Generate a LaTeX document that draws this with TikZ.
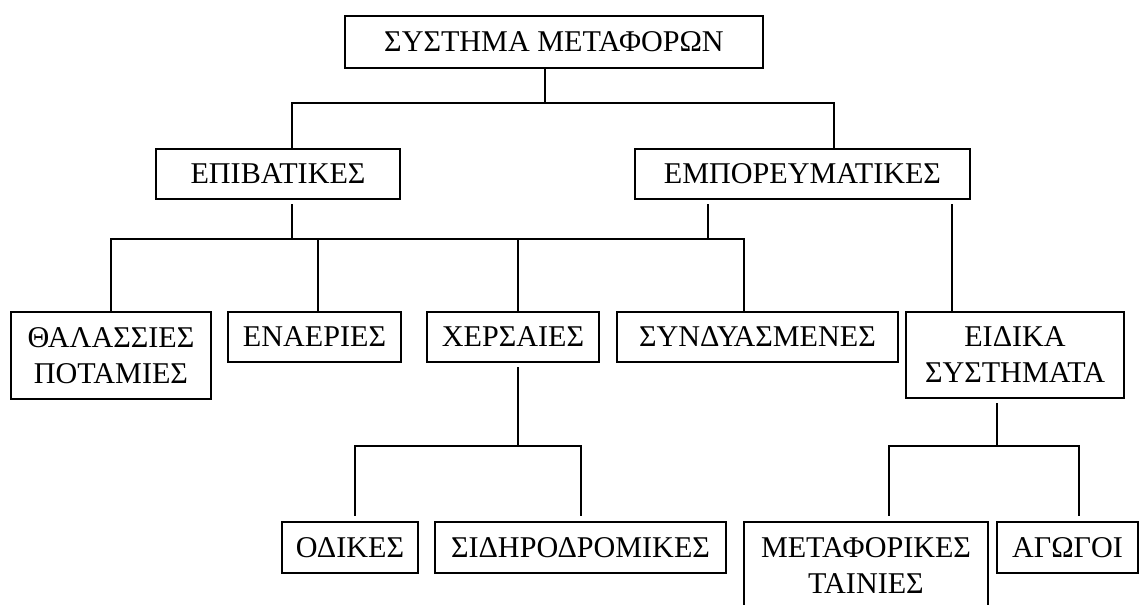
\documentclass[tikz,border=0pt]{standalone}
\usepackage{fontspec}
\setmainfont{Liberation Serif}
\begin{document}
\begin{tikzpicture}[x=0.75pt,y=-0.75pt,
  box/.style={draw, line width=1.6pt, inner sep=0pt, align=center,
    font=\fontsize{22.6}{27}\selectfont},
  link/.style={line width=0.9pt}]
\clip (0,0) rectangle (1143,604);

% boxes
\node[box, minimum width=313.5pt, minimum height=39pt] (sys) at (554,42) {ΣΥΣΤΗΜΑ ΜΕΤΑΦΟΡΩΝ};
\node[box, minimum width=183pt, minimum height=37.5pt] (epi) at (278,174) {ΕΠΙΒΑΤΙΚΕΣ};
\node[box, minimum width=251.25pt, minimum height=37.5pt] (emp) at (802.5,174) {ΕΜΠΟΡΕΥΜΑΤΙΚΕΣ};
\node[box, minimum width=150pt, minimum height=65.25pt] (thal) at (111,355.5) {ΘΑΛΑΣΣΙΕΣ\\ΠΟΤΑΜΙΕΣ};
\node[box, minimum width=129.75pt, minimum height=37.5pt] (enae) at (314.5,337) {ΕΝΑΕΡΙΕΣ};
\node[box, minimum width=129pt, minimum height=37.5pt] (xers) at (513,337) {ΧΕΡΣΑΙΕΣ};
\node[box, minimum width=210.75pt, minimum height=37.5pt] (synd) at (757.5,337) {ΣΥΝΔΥΑΣΜΕΝΕΣ};
\node[box, minimum width=163.5pt, minimum height=64.5pt] (eidika) at (1015,355) {ΕΙΔΙΚΑ\\ΣΥΣΤΗΜΑΤΑ};
\node[box, minimum width=102pt, minimum height=38.25pt] (odik) at (350,547.5) {ΟΔΙΚΕΣ};
\node[box, minimum width=218.25pt, minimum height=38.25pt] (sidir) at (580.5,547.5) {ΣΙΔΗΡΟΔΡΟΜΙΚΕΣ};
\node[box, minimum width=183pt, minimum height=66pt] (metaf) at (866,566) {ΜΕΤΑΦΟΡΙΚΕΣ\\ΤΑΙΝΙΕΣ};
\node[box, minimum width=105.75pt, minimum height=38.25pt] (agog) at (1067.5,547.5) {ΑΓΩΓΟΙ};

% first level
\coordinate (j0) at (545,103);
\draw[link] (sys.south -| j0) -- (j0);
\draw[link] (epi.north -| 292,0) |- (j0) -| (emp.north -| 834,0);

% second level
\coordinate (j1) at (292,239);
\draw[link, shorten <=3pt] (epi.south -| j1) -- (j1);
\draw[link] (thal.north) |- (j1) -| (synd.north -| 744,0);
\draw[link] (enae.north -| 318,0) -- (318,239);
\draw[link] (xers.north -| 518,0) -- (518,239);
\draw[link, shorten <=3pt] (emp.south -| 708,0) -- (708,239);
\draw[link, shorten <=3pt] (emp.south -| 952,0) -- (eidika.north -| 952,0);

% third level
\coordinate (j2) at (518,446);
\draw[link, shorten <=3pt] (xers.south -| j2) -- (j2);
\draw[link, shorten <=3.75pt, shorten >=3.75pt] (odik.north -| 355,0) |- (j2) -| (sidir.north -| 581,0);
\coordinate (j3) at (997,446);
\draw[link, shorten <=3pt] (eidika.south -| j3) -- (j3);
\draw[link, shorten <=3.75pt, shorten >=3.75pt] (metaf.north -| 889,0) |- (j3) -| (agog.north -| 1079,0);
\end{tikzpicture}
\end{document}
